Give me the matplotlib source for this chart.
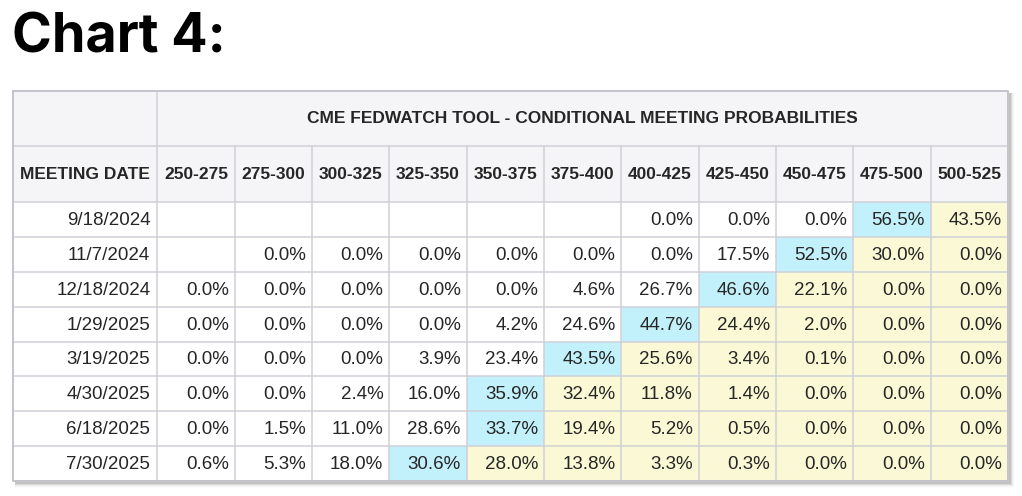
import matplotlib
matplotlib.use("Agg")
import matplotlib.pyplot as plt
from matplotlib.patches import Rectangle

# ---- data ----
title = "Chart 4:"
table_title = "CME FEDWATCH TOOL - CONDITIONAL MEETING PROBABILITIES"
first_header = "MEETING DATE"
rate_ranges = ["250-275", "275-300", "300-325", "325-350", "350-375", "375-400",
               "400-425", "425-450", "450-475", "475-500", "500-525"]
meeting_dates = ["9/18/2024", "11/7/2024", "12/18/2024", "1/29/2025",
                 "3/19/2025", "4/30/2025", "6/18/2025", "7/30/2025"]
N = None
p_0918_2024 = [N, N, N, N, N, N, 0.0, 0.0, 0.0, 56.5, 43.5]
p_1107_2024 = [N, 0.0, 0.0, 0.0, 0.0, 0.0, 0.0, 17.5, 52.5, 30.0, 0.0]
p_1218_2024 = [0.0, 0.0, 0.0, 0.0, 0.0, 4.6, 26.7, 46.6, 22.1, 0.0, 0.0]
p_0129_2025 = [0.0, 0.0, 0.0, 0.0, 4.2, 24.6, 44.7, 24.4, 2.0, 0.0, 0.0]
p_0319_2025 = [0.0, 0.0, 0.0, 3.9, 23.4, 43.5, 25.6, 3.4, 0.1, 0.0, 0.0]
p_0430_2025 = [0.0, 0.0, 2.4, 16.0, 35.9, 32.4, 11.8, 1.4, 0.0, 0.0, 0.0]
p_0618_2025 = [0.0, 1.5, 11.0, 28.6, 33.7, 19.4, 5.2, 0.5, 0.0, 0.0, 0.0]
p_0730_2025 = [0.6, 5.3, 18.0, 30.6, 28.0, 13.8, 3.3, 0.3, 0.0, 0.0, 0.0]
probabilities = [p_0918_2024, p_1107_2024, p_1218_2024, p_0129_2025,
                 p_0319_2025, p_0430_2025, p_0618_2025, p_0730_2025]

# ---- style / layout (pixels) ----
W, H = 1022, 496
fig = plt.figure(figsize=(W / 100, H / 100), dpi=100)
ax = fig.add_axes([0, 0, 1, 1])
ax.set_xlim(0, W)
ax.set_ylim(H, 0)
ax.axis("off")

FONT = "Liberation Sans"
px = 0.72  # 1 pixel in points
GRID = "#cfcfd6"
HEADER_BG = "#f5f5f7"
CYAN = "#c3f1fb"
YELLOW = "#fbf9d5"
TEXT = "#262626"
DATA_FS = 13.5

left, right = 13.3, 1008.0
first_w = 157.3 - left
col_w = (right - 157.3) / len(rate_ranges)
top = 90.7
h1 = 145.7 - top
h2 = 202.4 - 145.7
row_h = (480.8 - 202.4) / len(meeting_dates)
bottom = 202.4 + row_h * len(meeting_dates)

col_x = [157.3 + i * col_w for i in range(len(rate_ranges) + 1)]
row_y = [202.4 + i * row_h for i in range(len(meeting_dates) + 1)]

# title
ax.text(12, 38, title, fontfamily="Inter", fontweight="bold", fontsize=38.8,
        va="center", ha="left", color="#000000")

# shadow
for i, a in enumerate([0.10, 0.07, 0.045, 0.025, 0.012]):
    ax.add_patch(Rectangle((left + 2, top + 2), right - left + i + 1, bottom - top + i + 1,
                           facecolor="black", alpha=a, edgecolor="none", zorder=0))
# table background
ax.add_patch(Rectangle((left, top), right - left, bottom - top,
                       facecolor="white", edgecolor="none", zorder=1))
# header background
ax.add_patch(Rectangle((left, top), right - left, h1 + h2,
                       facecolor=HEADER_BG, edgecolor="none", zorder=1))

# cell colors
for r, vals in enumerate(probabilities):
    valid = [(v, i) for i, v in enumerate(vals) if v is not None]
    vmax, imax = max(valid)
    for i, v in enumerate(vals):
        if v is None:
            continue
        color = None
        if i == imax:
            color = CYAN
        elif i > imax:
            color = YELLOW
        if color:
            ax.add_patch(Rectangle((col_x[i], row_y[r]), col_w, row_h,
                                   facecolor=color, edgecolor="none", zorder=2))
        ax.text(col_x[i + 1] - 6, row_y[r] + row_h / 2 + 1, f"{v:.1f}%",
                fontfamily=FONT, fontsize=DATA_FS, ha="right", va="center",
                color=TEXT, zorder=5)
    ax.text(157.3 - 7, row_y[r] + row_h / 2 + 1, meeting_dates[r],
            fontfamily=FONT, fontsize=DATA_FS, ha="right", va="center",
            color=TEXT, zorder=5)

# header texts
ax.text((157.3 + right) / 2, top + h1 / 2 + 0.5, table_title, fontfamily=FONT,
        fontweight="bold", fontsize=12.5, ha="center", va="center", color=TEXT, zorder=5)
ax.text(left + first_w / 2, 145.7 + h2 / 2 + 0.5, first_header, fontfamily=FONT,
        fontweight="bold", fontsize=12.5, ha="center", va="center", color=TEXT, zorder=5)
for i, lab in enumerate(rate_ranges):
    ax.text(col_x[i] + col_w / 2, 145.7 + h2 / 2 + 0.5, lab, fontfamily=FONT,
            fontweight="bold", fontsize=12.5, ha="center", va="center", color=TEXT, zorder=5)

# grid lines
lw = 1.5 * px
ax.plot([left, right], [145.7, 145.7], color=GRID, lw=lw, zorder=4)
for y in row_y[:-1]:
    ax.plot([left, right], [y, y], color=GRID, lw=lw, zorder=4)
ax.plot([157.3, 157.3], [top, bottom], color=GRID, lw=lw, zorder=4)
for x in col_x[1:-1]:
    ax.plot([x, x], [145.7, bottom], color=GRID, lw=lw, zorder=4)
# outer border
ax.plot([left, right, right, left, left], [top, top, bottom, bottom, top],
        color="#c4c4cc", lw=2 * px, zorder=4)

fig.savefig("out.png", dpi=100)
